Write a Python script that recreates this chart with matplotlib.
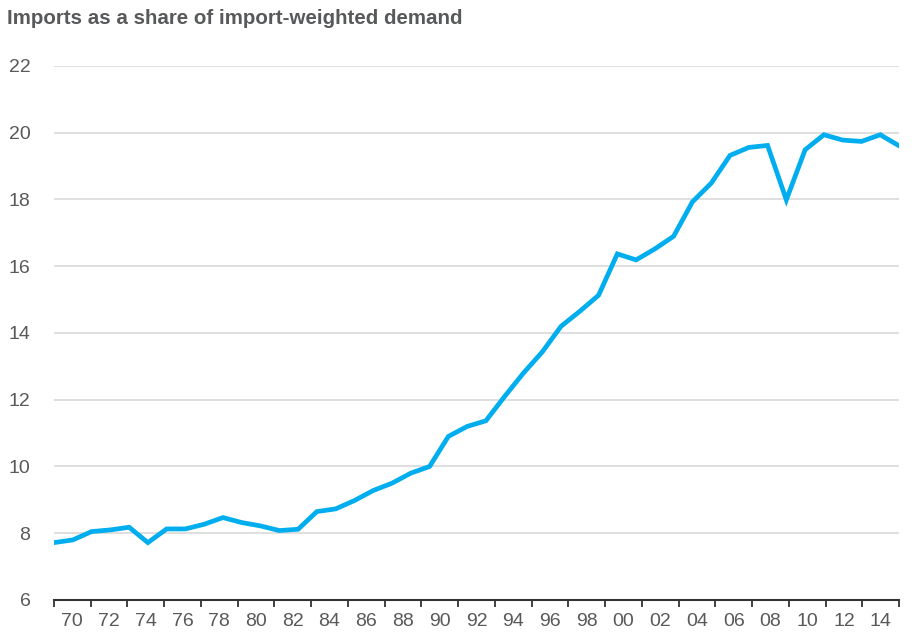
#!/usr/bin/env python
import numpy as np
import matplotlib
matplotlib.use('Agg')
import matplotlib.pyplot as plt

# Imports as a share of import-weighted demand, 1970-2015
years = list(range(1970, 2016))
share = [7.72, 7.80, 8.05, 8.10, 8.18, 7.72, 8.13, 8.13, 8.27, 8.47,
         8.32, 8.22, 8.08, 8.12, 8.65, 8.73, 8.98, 9.28, 9.50, 9.80,
         10.00, 10.90, 11.20, 11.37, 12.10, 12.80, 13.43, 14.20, 14.65, 15.13,
         16.37, 16.19, 16.52, 16.90, 17.93, 18.49, 19.32, 19.56, 19.62, 17.99,
         19.49, 19.94, 19.78, 19.74, 19.94, 19.61]
ylabels = [6, 8, 10, 12, 14, 16, 18, 20, 22]
xlabels = ['70', '72', '74', '76', '78', '80', '82', '84', '86', '88', '90',
           '92', '94', '96', '98', '00', '02', '04', '06', '08', '10', '12', '14']

plt.rcParams['font.family'] = ['Liberation Sans', 'DejaVu Sans']
grey = '#58595b'

fig = plt.figure(figsize=(9.15, 6.37), dpi=100)
ax = fig.add_axes([54/915, 1-600/637, 845/915, (600-66)/637])

ax.plot(years, share, color='#00aeef', lw=3.4, solid_joinstyle='miter', zorder=3)

ax.set_xlim(years[0], years[-1])
ax.set_ylim(ylabels[0], ylabels[-1])

# ticks at every 2-year boundary, labels centred in between
n = len(xlabels)
step = (years[-1] - years[0]) / n
ax.set_xticks([years[0] + k*step for k in range(n+1)])
ax.set_xticklabels([])
ax.set_xticks([years[0] + (k+0.5)*step for k in range(n)], minor=True)
ax.set_xticklabels(xlabels, minor=True)
ax.tick_params(axis='x', which='major', length=5, width=1.3, color='#333333', direction='out')
ax.tick_params(axis='x', which='minor', length=0, pad=9, labelsize=14, labelcolor=grey)

ax.set_yticks(ylabels)
ax.set_yticklabels([str(v) for v in ylabels])
ax.tick_params(axis='y', length=0, pad=17, labelsize=14, labelcolor=grey)
for v in ylabels[1:]:
    ax.axhline(v, color='#d9d9d9', lw=1.2, zorder=1)

for s in ['top', 'right', 'left']:
    ax.spines[s].set_visible(False)
ax.spines['bottom'].set_color('#333333')
ax.spines['bottom'].set_linewidth(1.5)

fig.text(7/915, 1-19/637, 'Imports as a share of import-weighted demand',
         fontsize=14.8, fontweight='bold', color=grey, va='center', ha='left')

fig.savefig('out.png', dpi=100)
